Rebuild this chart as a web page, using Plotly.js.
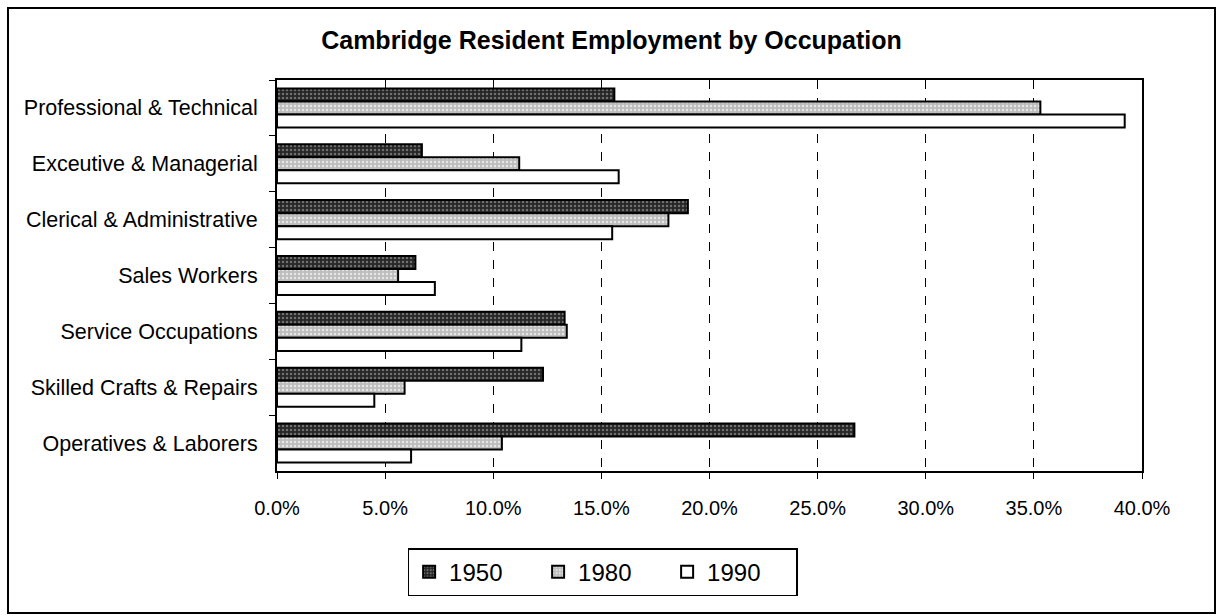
<!DOCTYPE html>
<html>
<head>
<meta charset="utf-8">
<script src="https://cdn.plot.ly/plotly-3.0.1.min.js"></script>
<style>
  body { margin: 0; background: #fff; }
  #frame { position: absolute; left: 7px; top: 7px; width: 1209px; height: 607px;
           border: 2px solid #000; box-sizing: border-box; }
</style>
</head>
<body>
<div id="frame"><div id="chart"></div></div>
<script>
// occupations, top to bottom
var occupations = ['Professional & Technical', 'Exceutive & Managerial', 'Clerical & Administrative',
    'Sales Workers', 'Service Occupations', 'Skilled Crafts & Repairs', 'Operatives & Laborers'];

// share of employed residents, percent
var y1950 = [15.6, 6.7, 19.0, 6.4, 13.3, 12.3, 26.7];
var y1980 = [35.3, 11.2, 18.1, 5.6, 13.4, 5.9, 10.4];
var y1990 = [39.2, 15.8, 15.5, 7.3, 11.3, 4.5, 6.2];

var xTicks = [0, 5, 10, 15, 20, 25, 30, 35, 40];
var xTickText = xTicks.map(function(v){ return v.toFixed(1) + '%'; });

function barTrace(name, vals, bg, fg){
    return {
        type: 'bar', orientation: 'h', name: name,
        x: vals, y: occupations,
        marker: {
            color: bg,
            line: {color: '#000', width: 2},
            pattern: fg ? {shape: '.', fgcolor: fg, bgcolor: bg, size: 4, solidity: 0.3} : undefined
        },
        hoverinfo: 'x+name'
    };
}

var data = [
    barTrace('1950', y1950, '#262626', '#707070'),
    barTrace('1980', y1980, '#bdbdbd', '#e6e6e6'),
    barTrace('1990', y1990, '#ffffff', null)
];

var layout = {
    width: 1205, height: 603,
    margin: {l: 268, r: 72, t: 71, b: 141},
    paper_bgcolor: '#fff', plot_bgcolor: '#fff',
    font: {family: 'Liberation Sans, Arial, sans-serif', color: '#000', size: 21.5},
    title: {text: '<b>Cambridge Resident Employment by Occupation</b>',
            font: {size: 25}, x: 0.5, xref: 'container', y: 0.949, yref: 'container', yanchor: 'middle'},
    barmode: 'group', bargap: 0.3, bargroupgap: 0,
    xaxis: {
        range: [0, 40], tickmode: 'array', tickvals: xTicks, ticktext: xTickText,
        tickfont: {size: 20},
        showgrid: true, gridcolor: '#000', gridwidth: 1, griddash: 'dash',
        zeroline: false, showline: true, linecolor: '#000', linewidth: 2, mirror: true,
        ticks: 'outside', ticklen: 6, tickcolor: '#000', ticklabelstandoff: 12,
        fixedrange: true
    },
    yaxis: {
        autorange: 'reversed', showgrid: false,
        showline: true, linecolor: '#000', linewidth: 2, mirror: true,
        ticks: 'outside', ticklen: 6, tickcolor: '#000', tickson: 'boundaries',
        ticklabelstandoff: 13, fixedrange: true
    },
    showlegend: true,
    legend: {
        orientation: 'h', x: 0.151, xanchor: 'left', y: -0.197, yanchor: 'top',
        bordercolor: '#000', borderwidth: 1.5, bgcolor: '#fff',
        font: {size: 24}, entrywidth: 84, traceorder: 'normal'
    }
};

Plotly.newPlot('chart', data, layout, {displayModeBar: false, staticPlot: true});
</script>
</body>
</html>
